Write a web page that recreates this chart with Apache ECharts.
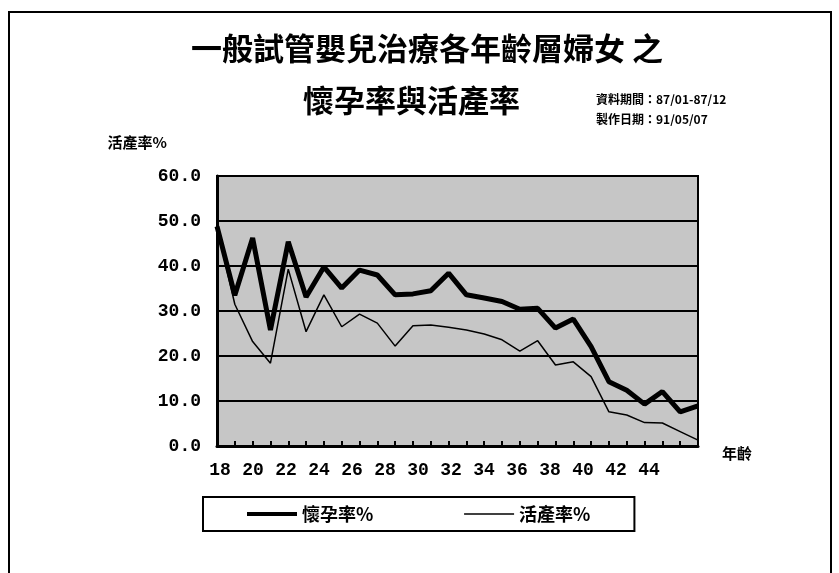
<!DOCTYPE html>
<html>
<head>
<meta charset="utf-8">
<title>懷孕率與活產率</title>
<script src="https://cdn.jsdelivr.net/npm/echarts@6/dist/echarts.min.js"></script>
<style>
  html, body { margin: 0; padding: 0; background: #fff; }
  #chart { width: 839px; height: 573px; }
</style>
</head>
<body>
<div id="chart"></div>
<script>
// Ages 18..45 on the category axis
const ages = [18,19,20,21,22,23,24,25,26,27,28,29,30,31,32,33,34,35,36,37,38,39,40,41,42,43,44,45];

// 懷孕率% (pregnancy rate) by age
const pregnancyRate = [48.8,33.5,46.2,25.8,45.4,33.1,39.8,35.1,39.1,38.0,33.6,33.8,34.5,38.4,33.6,32.9,32.1,30.4,30.6,26.2,28.2,22.1,14.3,12.4,9.3,12.1,7.6,8.9];

// 活產率% (live-birth rate) by age
const liveBirthRate = [48.5,31.5,23.2,18.4,39.3,25.4,33.6,26.5,29.3,27.3,22.2,26.7,26.9,26.4,25.8,24.9,23.6,21.1,23.4,18.0,18.7,15.4,7.6,6.9,5.2,5.1,3.2,1.3];

// Tick labels shown under the axis
const ageTicks = [18,20,22,24,26,28,30,32,34,36,38,40,42,44];

const titleLine1 = '一般試管嬰兒治療各年齡層婦女 之';
const titleLine2 = '懷孕率與活產率';
const noteLines = ['資料期間：87/01-87/12', '製作日期：91/05/07'];

const cjk = '"Noto Sans CJK TC", "Noto Sans CJK SC", sans-serif';
const digits = '"Liberation Mono", "DejaVu Sans Mono", monospace';

const chart = echarts.init(document.getElementById('chart'), null, { renderer: 'canvas' });

chart.setOption({
  backgroundColor: '#ffffff',
  animation: false,
  title: [
    { text: titleLine1, left: 186, top: 28, textStyle: { fontFamily: cjk, fontSize: 31, fontWeight: 'bold', color: '#000' } },
    { text: titleLine2, left: 298, top: 80, textStyle: { fontFamily: cjk, fontSize: 31, fontWeight: 'bold', color: '#000' } },
    { text: noteLines.join('\n'), left: 591, top: 84, textStyle: { fontFamily: cjk, fontSize: 12, fontWeight: 'bold', color: '#000', lineHeight: 20 } }
  ],
  legend: {
    left: 203, top: 497,
    padding: [8, 44, 8, 42],
    itemGap: 90,
    itemWidth: 50, itemHeight: 14,
    borderColor: '#000', borderWidth: 2,
    itemStyle: { opacity: 0 },
    textStyle: { fontFamily: cjk, fontSize: 18, fontWeight: 'bold', color: '#000' },
    data: [
      { name: '懷孕率%', lineStyle: { width: 4, color: '#000' } },
      { name: '活產率%', lineStyle: { width: 1.5, color: '#000' } }
    ]
  },
  grid: {
    left: 217, right: 141, top: 176, bottom: 127,
    show: true,
    backgroundColor: '#c6c6c6',
    borderColor: '#000', borderWidth: 2
  },
  xAxis: [
    {
      type: 'category',
      data: ages,
      boundaryGap: false,
      axisLine: { lineStyle: { color: '#000', width: 3 } },
      axisTick: { inside: true, length: 5, interval: 0, lineStyle: { color: '#000', width: 2 } },
      axisLabel: { show: false },
      splitLine: { show: false }
    },
    {
      // label axis: carries the age tick labels and the axis name
      type: 'value',
      position: 'bottom',
      min: 17.82, max: 46.97,
      axisLine: { show: false },
      axisTick: { show: false },
      splitLine: { show: false },
      axisLabel: {
        customValues: ageTicks,
        margin: 15,
        fontFamily: digits, fontSize: 18, fontWeight: 'bold', color: '#000'
      },
      name: '年齡',
      nameLocation: 'end',
      nameGap: 24,
      nameTextStyle: { fontFamily: cjk, fontSize: 15, fontWeight: 'bold', color: '#000', verticalAlign: 'top' }
    }
  ],
  yAxis: {
    type: 'value',
    min: 0, max: 60, interval: 10,
    name: '活產率%',
    nameLocation: 'end',
    nameGap: 26,
    nameTextStyle: { fontFamily: cjk, fontSize: 15, fontWeight: 'bold', color: '#000', align: 'right', padding: [0, 50, 0, 0] },
    axisLine: { show: true, lineStyle: { color: '#000', width: 3 } },
    axisTick: { show: false },
    axisLabel: {
      margin: 16,
      formatter: v => v.toFixed(1),
      fontFamily: digits, fontSize: 18, fontWeight: 'bold', color: '#000'
    },
    splitLine: { show: true, lineStyle: { color: '#000', width: 2 } }
  },
  series: [
    {
      name: '懷孕率%',
      type: 'line',
      data: pregnancyRate,
      symbol: 'none',
      lineStyle: { color: '#000', width: 5 },
      itemStyle: { color: '#000' },
      z: 3
    },
    {
      name: '活產率%',
      type: 'line',
      data: liveBirthRate,
      symbol: 'none',
      lineStyle: { color: '#000', width: 1.5 },
      itemStyle: { color: '#000' },
      z: 2
    }
  ],
  graphic: [
    {
      // outer frame of the sheet
      type: 'polyline',
      shape: { points: [[9, 573], [9, 12], [831, 12], [831, 573]] },
      style: { stroke: '#000', lineWidth: 2, fill: null }
    }
  ]
});
</script>
</body>
</html>
